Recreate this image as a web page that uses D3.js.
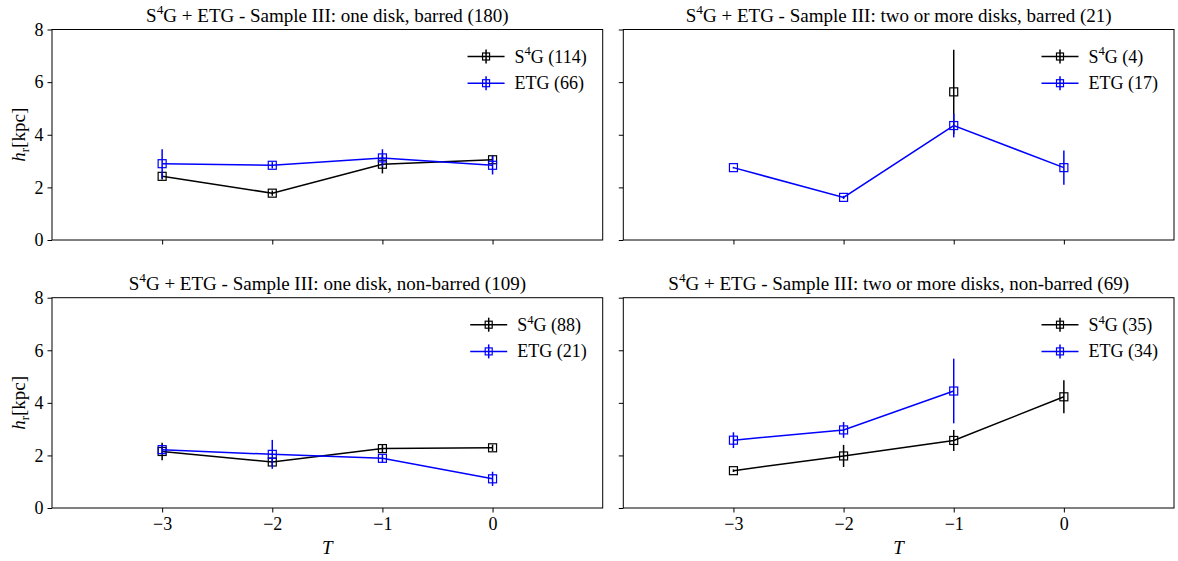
<!DOCTYPE html>
<html>
<head>
<meta charset="utf-8">
<script src="https://cdn.jsdelivr.net/npm/d3@7"></script>
<style>
  body { margin: 0; background: #fff; }
  svg { display: block; }
  svg text { font-family: 'Liberation Serif', 'Times New Roman', serif; }
</style>
</head>
<body>
<svg id="chart" width="1178" height="561"></svg>
<script>
// Hubble type bins shared by every panel
const T_VALUES = [-3, -2, -1, 0];
const X_TICKS = [-3, -2, -1, 0];
const Y_TICKS = [0, 2, 4, 6, 8];

const TITLES = [
  ['one disk, barred', 180],
  ['two or more disks, barred', 21],
  ['one disk, non-barred', 109],
  ['two or more disks, non-barred', 69],
];
const S4G_COUNTS = [114, 4, 88, 35];
const ETG_COUNTS = [66, 17, 21, 34];

// h_r [kpc] per T bin (null = no point)
const S4G_HR = [
  [2.42, 1.78, 2.88, 3.05],
  [null, null, 5.63, null],
  [2.15, 1.75, 2.26, 2.29],
  [1.42, 1.98, 2.57, 4.23],
];
const S4G_ERR = [
  [0.12, 0.1, 0.35, 0.15],
  [null, null, 1.6, null],
  [0.33, 0.15, 0.15, 0.12],
  [0.05, 0.42, 0.4, 0.63],
];
const ETG_HR = [
  [2.9, 2.84, 3.12, 2.84],
  [2.75, 1.62, 4.35, 2.75],
  [2.22, 2.04, 1.89, 1.11],
  [2.58, 2.97, 4.45, null],
];
const ETG_ERR = [
  [0.55, 0.12, 0.33, 0.35],
  [0.03, 0.06, 0.45, 0.65],
  [0.15, 0.55, 0.15, 0.27],
  [0.3, 0.3, 1.23, null],
];

const svg = d3.select('#chart');
const FONT = 'Liberation Serif';
const FS = 18;        // ticks, legend
const FS_TITLE = 19;
const BOXES = [
  { x0: 52, x1: 602.7, y0: 29.5, y1: 240 },
  { x0: 623.3, x1: 1174, y0: 29.5, y1: 240 },
  { x0: 52, x1: 602.7, y0: 297.7, y1: 508 },
  { x0: 623.3, x1: 1174, y0: 297.7, y1: 508 },
];

function label(parent, size) {
  return parent.append('text').attr('font-family', FONT).attr('font-size', size).attr('fill', '#000');
}

function s4gLabel(sel, size) {
  sel.append('tspan').text('S');
  sel.append('tspan').attr('font-size', size * 0.7).attr('dy', -size * 0.4).text('4');
  sel.append('tspan').attr('dy', size * 0.4).text('G');
}

BOXES.forEach((b, i) => {
  const col = i % 2, row = Math.floor(i / 2);
  const x = d3.scaleLinear().domain([-4, 1]).range([b.x0, b.x1]);
  const y = d3.scaleLinear().domain([0, 8]).range([b.y1, b.y0]);
  const g = svg.append('g');

  // axes
  const xa = g.append('g').attr('transform', `translate(0,${b.y1})`)
    .call(d3.axisBottom(x).tickValues(X_TICKS).tickSize(4.5).tickPadding(5)
      .tickFormat(row === 1 ? (d => d3.format('')(d).replace('-', '\u2212')) : () => ''));
  const ya = g.append('g').attr('transform', `translate(${b.x0},0)`)
    .call(d3.axisLeft(y).tickValues(Y_TICKS).tickSize(4.5).tickPadding(4)
      .tickFormat(col === 0 ? d3.format('d') : () => ''));
  [xa, ya].forEach(a => {
    a.attr('font-family', FONT).attr('font-size', FS);
    a.select('.domain').remove();
    a.selectAll('line').attr('stroke', '#000').attr('stroke-width', 1);
    a.selectAll('text').attr('fill', '#000').attr('font-family', FONT);
  });

  g.append('rect').attr('x', b.x0).attr('y', b.y0)
    .attr('width', b.x1 - b.x0).attr('height', b.y1 - b.y0)
    .attr('fill', 'none').attr('stroke', '#000').attr('stroke-width', 1);

  // title
  const t = label(g, FS_TITLE).attr('x', (b.x0 + b.x1) / 2).attr('y', b.y0 - 8)
    .attr('text-anchor', 'middle');
  s4gLabel(t, FS_TITLE);
  t.append('tspan').text(` + ETG - Sample III: ${TITLES[i][0]} (${TITLES[i][1]})`);

  if (col === 0) {
    const yl = label(g, 19)
      .attr('transform', `translate(25,${(b.y0 + b.y1) / 2}) rotate(-90)`)
      .attr('text-anchor', 'middle');
    yl.append('tspan').attr('font-style', 'italic').text('h');
    yl.append('tspan').attr('font-size', 13).attr('dy', 4).text('r');
    yl.append('tspan').attr('dy', -4).text('[kpc]');
  }
  if (row === 1) {
    label(g, 19).attr('x', (b.x0 + b.x1) / 2).attr('y', 554)
      .attr('text-anchor', 'middle').attr('font-style', 'italic').text('T');
  }

  const series = [
    { vals: S4G_HR[i], errs: S4G_ERR[i], color: '#000', name: 's4g', n: S4G_COUNTS[i] },
    { vals: ETG_HR[i], errs: ETG_ERR[i], color: '#0000ff', name: 'etg', n: ETG_COUNTS[i] },
  ];

  series.forEach(s => {
    const pts = T_VALUES.map((tv, k) => ({ t: tv, v: s.vals[k], e: s.errs[k] }));
    const sg = g.append('g');
    sg.append('path').datum(pts)
      .attr('d', d3.line().defined(d => d.v != null).x(d => x(d.t)).y(d => y(d.v)))
      .attr('fill', 'none').attr('stroke', s.color).attr('stroke-width', 1.5);
    const valid = pts.filter(d => d.v != null);
    sg.selectAll('line.err').data(valid).join('line').attr('class', 'err')
      .attr('x1', d => x(d.t)).attr('x2', d => x(d.t))
      .attr('y1', d => y(d.v - d.e)).attr('y2', d => y(d.v + d.e))
      .attr('stroke', s.color).attr('stroke-width', 1.5);
    sg.selectAll('rect.mk').data(valid).join('rect').attr('class', 'mk')
      .attr('x', d => x(d.t) - 4).attr('y', d => y(d.v) - 4)
      .attr('width', 8).attr('height', 8)
      .attr('fill', 'none').attr('stroke', s.color).attr('stroke-width', 1.2);
  });

  // legend
  const leg = g.append('g');
  const texts = series.map((s, k) => {
    const tt = label(leg, FS).attr('y', b.y0 + 27 + k * 26.7 + 6);
    if (s.name === 's4g') s4gLabel(tt, FS); else tt.append('tspan').text('ETG');
    tt.append('tspan').text(` (${s.n})`);
    return tt;
  });
  const maxW = d3.max(texts, tt => tt.node().getComputedTextLength());
  const tx = b.x1 - 16 - maxW;
  series.forEach((s, k) => {
    const ly = b.y0 + 27 + k * 26.7;
    texts[k].attr('x', tx);
    const hx0 = tx - 47, hx1 = tx - 10, hm = (hx0 + hx1) / 2;
    leg.append('line').attr('x1', hx0).attr('x2', hx1).attr('y1', ly).attr('y2', ly)
      .attr('stroke', s.color).attr('stroke-width', 1.5);
    leg.append('line').attr('x1', hm).attr('x2', hm).attr('y1', ly - 7).attr('y2', ly + 7)
      .attr('stroke', s.color).attr('stroke-width', 1.5);
    leg.append('rect').attr('x', hm - 3.5).attr('y', ly - 3.5).attr('width', 7).attr('height', 7)
      .attr('fill', 'none').attr('stroke', s.color).attr('stroke-width', 1.2);
  });
});
</script>
</body>
</html>
